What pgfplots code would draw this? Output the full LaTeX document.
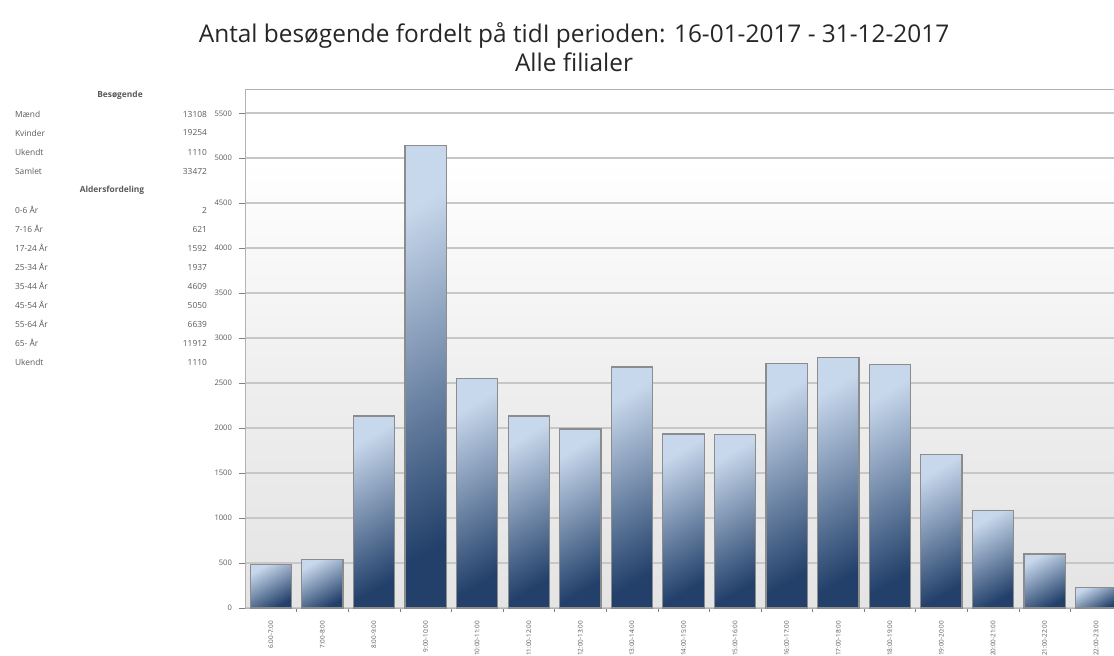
\documentclass[border=0pt]{standalone}
\usepackage{pgfplots}
\pgfplotsset{compat=1.18}
\usepackage{fontspec}
\setmainfont{Open Sans}
\definecolor{barlight}{HTML}{C8D8EC}
\definecolor{bardark}{HTML}{22406A}
\definecolor{txt}{HTML}{5A5A5A}
\pgfdeclareverticalshading{bgshade}{100bp}{color(0bp)=(black!15); color(45bp)=(black!7); color(68bp)=(white); color(100bp)=(white)}
\begin{document}
\begin{tikzpicture}
\useasboundingbox (0,0) rectangle (557pt,327.5pt);
% titles
\node[font=\fontsize{12.2}{14}\selectfont, text=black!85] at (287pt,310pt) {Antal besøgende fordelt på tidI perioden: 16-01-2017 - 31-12-2017};
\node[font=\fontsize{12.2}{14}\selectfont, text=black!85] at (287pt,296.5pt) {Alle filialer};
% side table
\node[font=\fontsize{4.2}{5}\selectfont\bfseries, text=txt] at (60pt,280pt) {Besøgende};
\node[font=\fontsize{4.2}{5}\selectfont\bfseries, text=txt] at (56pt,232.5pt) {Aldersfordeling};
\foreach \lab/\val/\yy in {Mænd/13108/270.5, Kvinder/19254/261, Ukendt/1110/251.5, Samlet/33472/242,
  0-6 År/2/222.5, 7-16 År/621/213, 17-24 År/1592/203.5, 25-34 År/1937/194, 35-44 År/4609/184.5,
  45-54 År/5050/175, 55-64 År/6639/165.5, 65- År/11912/156, Ukendt/1110/146.5}{
  \node[font=\fontsize{4.2}{5}\selectfont, text=txt, anchor=west] at (4pt,\yy pt) {\lab};
  \node[font=\fontsize{4.2}{5}\selectfont, text=txt, anchor=east] at (107pt,\yy pt) {\val};
}
\begin{axis}[
  at={(122.5pt,23.5pt)}, anchor=south west,
  scale only axis, width=438.5pt, height=259.5pt,
  xmin=-0.5, xmax=16.5, ymin=0, ymax=5770,
  ybar, bar width=0.8, bar shift=0pt,
  axis background/.style={shading=bgshade},
  axis line style={black!30},
  xtick={0,...,16},
  xticklabels={6:00-7:00,7:00-8:00,8:00-9:00,9:00-10:00,10:00-11:00,11:00-12:00,12:00-13:00,13:00-14:00,14:00-15:00,15:00-16:00,16:00-17:00,17:00-18:00,18:00-19:00,19:00-20:00,20:00-21:00,21:00-22:00,22:00-23:00},
  minor xtick={0.5,1.5,...,15.5},
  major x tick style={draw=none},
  minor x tick style={black!50},
  minor tick length=2pt,
  tick align=outside,
  ytick={0,500,...,5500},
  major y tick style={black!50},
  major tick length=3pt,
  ymajorgrids,
  major y grid style={black!22, line width=0.8pt},
  xtick pos=bottom, ytick pos=left,
  /pgf/number format/assume math mode=true,
  /pgf/number format/1000 sep={},
  yticklabel style={font=\fontsize{3.8}{4}\selectfont, text=txt},
  xticklabel style={rotate=90, anchor=east, font=\fontsize{3.2}{4}\selectfont, text=txt},
  barstyle/.style={draw=black!45, line width=0.6pt, top color=barlight, bottom color=bardark, shading angle=30},
]
\addplot[barstyle] coordinates {(0,480)};
\addplot[barstyle] coordinates {(1,535)};
\addplot[barstyle] coordinates {(2,2135)};
\addplot[barstyle] coordinates {(3,5145)};
\addplot[barstyle] coordinates {(4,2555)};
\addplot[barstyle] coordinates {(5,2135)};
\addplot[barstyle] coordinates {(6,1990)};
\addplot[barstyle] coordinates {(7,2680)};
\addplot[barstyle] coordinates {(8,1935)};
\addplot[barstyle] coordinates {(9,1925)};
\addplot[barstyle] coordinates {(10,2715)};
\addplot[barstyle] coordinates {(11,2785)};
\addplot[barstyle] coordinates {(12,2705)};
\addplot[barstyle] coordinates {(13,1710)};
\addplot[barstyle] coordinates {(14,1080)};
\addplot[barstyle] coordinates {(15,600)};
\addplot[barstyle] coordinates {(16,225)};
\end{axis}
\end{tikzpicture}
\end{document}
